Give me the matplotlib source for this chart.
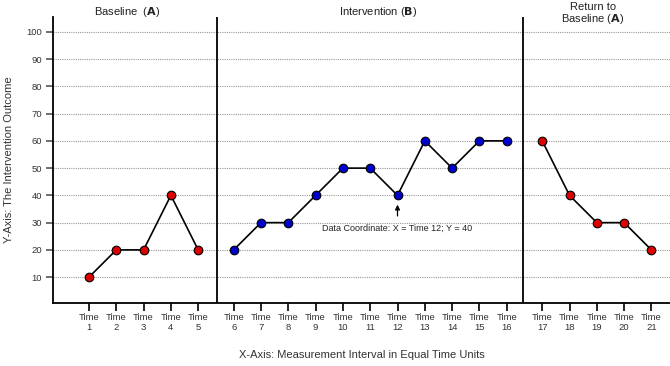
import matplotlib
matplotlib.use("Agg")
import matplotlib.pyplot as plt
import numpy as np

plt.rcParams['font.family'] = ['Liberation Sans', 'DejaVu Sans']

# Data
times_a1 = [1, 2, 3, 4, 5]
values_a1 = [10, 20, 20, 40, 20]
times_b = [6, 7, 8, 9, 10, 11, 12, 13, 14, 15, 16]
values_b = [20, 30, 30, 40, 50, 50, 40, 60, 50, 60, 60]
times_a2 = [17, 18, 19, 20, 21]
values_a2 = [60, 40, 30, 30, 20]
phase_titles = ["Baseline  ($\\bf{A}$)", "Intervention ($\\bf{B}$)", "Return to\nBaseline ($\\bf{A}$)"]
y_ticks = [10, 20, 30, 40, 50, 60, 70, 80, 90, 100]

# plotting positions with gaps between phases
gap = 0.3
def pos(ts, shift):
    return [t + shift for t in ts]

xa1 = pos(times_a1, 0)
xb = pos(times_b, gap)
xa2 = pos(times_a2, 2 * gap)

fig = plt.figure(figsize=(6.7, 3.66), dpi=100)
ax = fig.add_axes([0.079, 0.172, 0.921, 0.782])

for y in y_ticks:
    ax.axhline(y, color='#999999', linestyle=(0, (1, 1)), linewidth=0.8, zorder=0)

mk = dict(marker='o', markersize=6.2, markeredgecolor='black', markeredgewidth=0.8,
          color='black', linewidth=1.2, zorder=3)
ax.plot(xa1, values_a1, markerfacecolor='#dd0000', **mk)
ax.plot(xb, values_b, markerfacecolor='#0000cc', **mk)
ax.plot(xa2, values_a2, markerfacecolor='#dd0000', **mk)

line1 = 5.69
line2 = 16.9
ax.axvline(line1, color='black', linewidth=1.3, zorder=2)
ax.axvline(line2, color='black', linewidth=1.3, zorder=2)

ax.set_xlim(-0.32, 22.28)
ax.set_ylim(0.5, 105.5)

allx = xa1 + xb + xa2
allt = times_a1 + times_b + times_a2
ax.set_xticks(allx)
ax.set_xticklabels([f"Time\n{t}" for t in allt], fontsize=6.8, color='#333333', linespacing=1.05)
ax.set_yticks(y_ticks)
ax.set_yticklabels([str(v) for v in y_ticks], fontsize=6.8, color='#333333')
ax.tick_params(axis='x', length=6, width=1.2, pad=1.5)
ax.tick_params(axis='y', length=5, width=1.2, color='#555555', pad=3)

for s in ['top', 'right']:
    ax.spines[s].set_visible(False)
ax.spines['left'].set_linewidth(1.3)
ax.spines['bottom'].set_linewidth(1.3)

ax.set_ylabel("Y-Axis: The Intervention Outcome", fontsize=8, color='#333333', labelpad=9)
ax.set_xlabel("X-Axis: Measurement Interval in Equal Time Units", fontsize=8, color='#333333', labelpad=13)

# phase titles
ax.text(2.39, 107.1, phase_titles[0], ha='center', va='center', fontsize=8, color='#222222')
ax.text(11.59, 107.1, phase_titles[1], ha='center', va='center', fontsize=8, color='#222222')
ax.text(19.46, 106.6, phase_titles[2], ha='center', va='center', fontsize=8, color='#222222',
        multialignment='center', linespacing=1.05)

# annotation
xi = times_b.index(12)
ax.annotate("Data Coordinate: X = Time 12; Y = 40", xy=(xb[xi], values_b[xi] - 3.4),
            xytext=(xb[xi], values_b[xi] - 12), ha='center', va='center', fontsize=6.5,
            color='#222222',
            arrowprops=dict(arrowstyle='-|>', color='black', lw=0.9, mutation_scale=7,
                            shrinkA=3.5, shrinkB=0))

fig.savefig("out.png", dpi=100)
